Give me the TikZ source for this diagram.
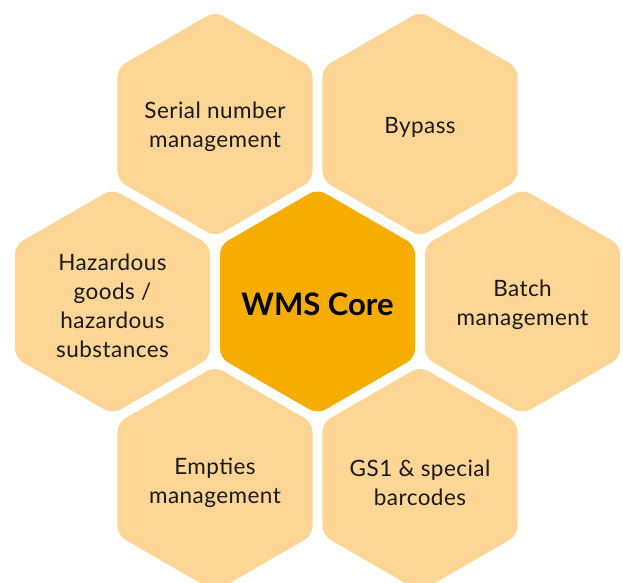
\documentclass[tikz,border=0pt]{standalone}
\usepackage{fontspec}
\setmainfont{Lato}[LetterSpace=2]
\newfontfamily\corefont{Lato}
\definecolor{coreorange}{RGB}{247,172,0}
\definecolor{lightorange}{RGB}{253,213,148}
\definecolor{txt}{RGB}{26,26,26}
\begin{document}
\begin{tikzpicture}[x=1pt,y=-1pt]
\useasboundingbox (0,0) rectangle (623,582);
\tikzset{
  hexshape/.style={rounded corners=9pt},
  hexlabel/.style={align=center, text=txt, font=\fontsize{22.5}{29}\selectfont, inner sep=0pt},
  corelabel/.style={align=center, text=black, font=\corefont\fontsize{31}{36}\selectfont\bfseries, inner sep=0pt}
}
\newcommand\hexagon[3]{%
  \fill[#3, hexshape, shift={(#1,#2)}] (97.5,0) -- (30:112.6) -- (90:112.6) -- (150:112.6) -- (210:112.6) -- (270:112.6) -- (330:112.6) -- cycle;}
\hexagon{317.5}{301.5}{coreorange}
\hexagon{215}{124}{lightorange}
\hexagon{420}{124}{lightorange}
\hexagon{112.5}{301.5}{lightorange}
\hexagon{522.5}{301.5}{lightorange}
\hexagon{215}{479}{lightorange}
\hexagon{420}{479}{lightorange}
\node[corelabel] (core) at (317.5,304) {WMS Core};
\node[hexlabel] (serial) at (215,127) {Serial number\\management};
\node[hexlabel] (bypass) at (420,127) {Bypass};
\node[hexlabel] (hazard) at (112.5,306) {Hazardous\\goods /\\hazardous\\substances};
\node[hexlabel] (batch) at (522.5,305) {Batch\\management};
\node[hexlabel] (empties) at (215,483) {Empties\\management};
\node[hexlabel] (gs1) at (420,483) {GS1 \& special\\barcodes};
\end{tikzpicture}
\end{document}
